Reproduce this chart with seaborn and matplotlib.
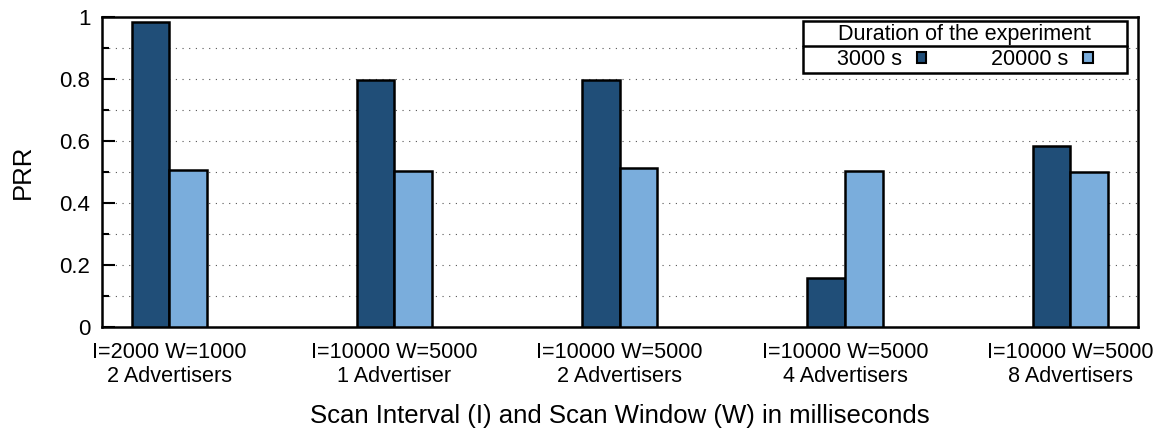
import matplotlib
matplotlib.use("Agg")
import matplotlib.pyplot as plt
from matplotlib.patches import Patch, Rectangle
from matplotlib.lines import Line2D
from matplotlib.ticker import MultipleLocator, FuncFormatter
import seaborn as sns
import pandas as pd

# data
configs = ["I=2000 W=1000\n2 Advertisers",
           "I=10000 W=5000\n1 Advertiser",
           "I=10000 W=5000\n2 Advertisers",
           "I=10000 W=5000\n4 Advertisers",
           "I=10000 W=5000\n8 Advertisers"]
durations = ["3000 s", "20000 s"]
prr_3000 = [0.984, 0.796, 0.796, 0.158, 0.585]
prr_20000 = [0.506, 0.504, 0.514, 0.503, 0.500]
colors = ["#204e78", "#7aaddc"]

df = pd.DataFrame({
    "config": configs * 2,
    "duration": [durations[0]] * len(configs) + [durations[1]] * len(configs),
    "prr": prr_3000 + prr_20000,
})

sns.set_style("ticks")
plt.rcParams["font.family"] = ["Liberation Sans", "DejaVu Sans"]
plt.rcParams["text.color"] = "black"
plt.rcParams["axes.labelcolor"] = "black"
plt.rcParams["xtick.color"] = "black"
plt.rcParams["ytick.color"] = "black"

W, H = 1154, 430
fig, ax = plt.subplots(figsize=(W / 100, H / 100), dpi=100)
fig.subplots_adjust(left=0.088, right=0.986, top=0.96, bottom=0.24)

sns.barplot(data=df, x="config", y="prr", hue="duration", palette=colors,
            width=0.334, edgecolor="black", linewidth=1.8, saturation=1,
            legend=False, ax=ax, zorder=3)

ax.set_xlim(-0.3, 4.3)
ax.set_ylim(0, 1)
ax.yaxis.set_major_locator(MultipleLocator(0.2))
ax.yaxis.set_minor_locator(MultipleLocator(0.1))
ax.yaxis.set_major_formatter(FuncFormatter(lambda v, p: f"{v:g}" if abs(v) > 1e-9 else "0"))
ax.grid(axis="y", which="both", linestyle=(0, (1, 5)), color="#555555",
        linewidth=0.8, zorder=0)
ax.tick_params(axis="y", which="major", direction="in", length=9, width=1.5,
               labelsize=16, pad=8)
ax.tick_params(axis="y", which="minor", direction="in", length=5, width=1.5)
ax.tick_params(axis="x", length=0, labelsize=15.6, pad=11)
for lab in ax.get_xticklabels():
    lab.set_linespacing(1.2)
for sp in ax.spines.values():
    sp.set_linewidth(1.8)
    sp.set_color("black")

ax.set_xlabel("Scan Interval (I) and Scan Window (W) in milliseconds",
              fontsize=18.5, labelpad=12)
ax.set_ylabel("PRR", fontsize=18.5, labelpad=18)

handles = [Patch(facecolor=c, edgecolor="black", linewidth=1.5) for c in colors]
leg = ax.legend(handles, durations, title="Duration of the experiment",
                ncol=2, markerfirst=False, loc="upper right",
                bbox_to_anchor=(1093 / W, 1 - 24 / H),
                bbox_transform=fig.transFigure,
                fontsize=15.5, title_fontsize=15.5, frameon=False,
                handlelength=0.45, handleheight=0.45, columnspacing=3.0,
                handletextpad=0.7, borderpad=0, labelspacing=0.2,
                borderaxespad=0)
leg.set_zorder(5)

# gnuplot-style boxed key with a line under the title
fig.canvas.draw()
lb = leg.get_window_extent()
tb = leg.get_title().get_window_extent()
padx, pady = 34, 3
box = Rectangle((lb.x0 - padx, lb.y0 - pady), lb.width + 2 * padx,
                lb.height + 2 * pady, transform=None, facecolor="white",
                edgecolor="black", linewidth=1.8, zorder=4)
ax.add_artist(box)
y_sep = tb.y0 - 1
ax.add_artist(Line2D([lb.x0 - padx, lb.x1 + padx], [y_sep, y_sep],
                     transform=None, color="black", linewidth=1.8, zorder=6))

fig.savefig("out.png", dpi=100)
